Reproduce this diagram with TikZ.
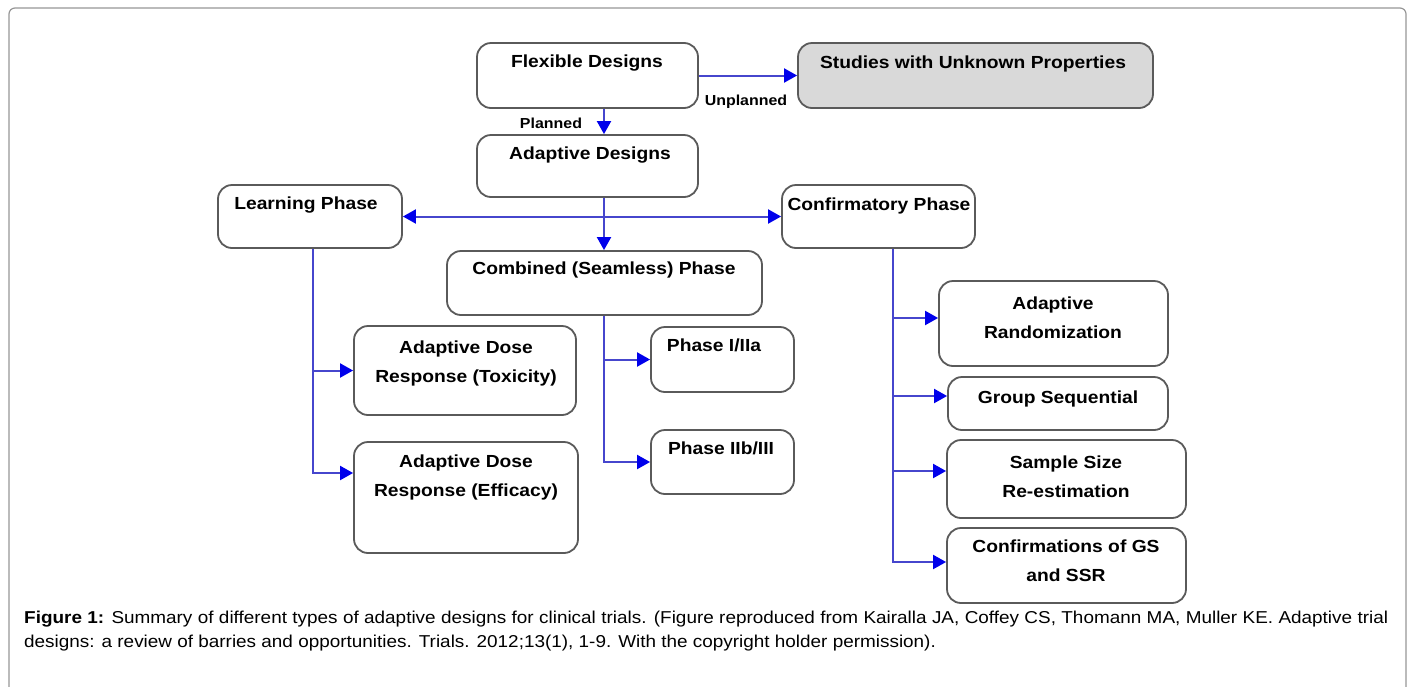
\documentclass[tikz,border=0pt]{standalone}
\usepackage{fontspec}
\setmainfont{Liberation Sans}[FakeStretch=1.1]
\usetikzlibrary{arrows.meta,fit}
\definecolor{lnblue}{RGB}{70,70,205}
\definecolor{tipblue}{RGB}{0,0,235}
\definecolor{bxgray}{RGB}{90,90,90}
\definecolor{studfill}{RGB}{217,217,217}
\definecolor{framegray}{RGB}{150,150,150}
\begin{document}
\begin{tikzpicture}[x=1pt,y=-1pt,
 bx/.style={draw=bxgray, line width=1.8pt, rounded corners=14pt, inner sep=0pt, fill=white},
 txt/.style={font=\fontsize{17.5}{29}\selectfont\bfseries, align=center, inner sep=0pt},
 lbl/.style={font=\fontsize{14.5}{17}\selectfont\bfseries, inner sep=0pt},
 ln/.style={draw=lnblue, line width=2pt},
 arr/.style={ln, -{Triangle[length=13pt,width=14pt,color=tipblue]}},
 darr/.style={ln, {Triangle[length=13pt,width=14pt,color=tipblue]}-{Triangle[length=13pt,width=14pt,color=tipblue]}},
]
\useasboundingbox (0,0) rectangle (1414,686);
\draw[framegray, line width=1.2pt, rounded corners=6pt] (9,8) -- (1406,8) -- (1406,730) -- (9,730) -- cycle;

% boxes
\node[bx, fit={(477,43) (698,108)}] (flex) {};
\node[bx, fill=studfill, fit={(798,43) (1153,108)}] (stud) {};
\node[bx, fit={(477,135) (698,197)}] (adapt) {};
\node[bx, fit={(218,185) (402,248)}] (learn) {};
\node[bx, fit={(782,185) (975,248)}] (conf) {};
\node[bx, fit={(447,251) (762,315)}] (comb) {};
\node[bx, fit={(651,327) (794,392)}] (p1) {};
\node[bx, fit={(651,430) (794,494)}] (p2) {};
\node[bx, fit={(354,326) (576,415)}] (tox) {};
\node[bx, fit={(354,442) (578,553)}] (eff) {};
\node[bx, fit={(939,281) (1168,366)}] (rand) {};
\node[bx, fit={(948,377) (1168,430)}] (gs) {};
\node[bx, fit={(947,440) (1186,518)}] (ss) {};
\node[bx, fit={(947,528) (1186,603)}] (cgs) {};

% texts
\node[txt] (flexT) at (587,63) {Flexible Designs};
\node[txt] (studT) at (973,64) {Studies with Unknown Properties};
\node[txt] (adaptT) at (590,155) {Adaptive Designs};
\node[txt] (learnT) at (306,205) {Learning Phase};
\node[txt] (confT) at (879,206) {Confirmatory Phase};
\node[txt] (combT) at (604,270) {Combined (Seamless) Phase};
\node[txt] (p1T) at (714,345) {Phase I/IIa};
\node[txt] (p2T) at (721,448) {Phase IIb/III};
\node[txt] (toxT) at (466,363.5) {Adaptive Dose\\Response (Toxicity)};
\node[txt] (effT) at (466,477.5) {Adaptive Dose\\Response (Efficacy)};
\node[txt] (randT) at (1053,318) {Adaptive\\Randomization};
\node[txt] (gsT) at (1058,399) {Group Sequential};
\node[txt] (ssT) at (1066,476.5) {Sample Size\\Re-estimation};
\node[txt] (cgsT) at (1066,561) {Confirmations of GS\\and SSR};

% labels
\node[lbl] (unpl) at (746,102) {Unplanned};
\node[lbl] (plan) at (551,123) {Planned};

% trunk coordinates
\coordinate (tA) at (604,0);
\coordinate (tL) at (313,0);
\coordinate (tC) at (893,0);
\coordinate (yE) at (0,473);
\coordinate (yR) at (0,318);
\coordinate (yG) at (0,396);
\coordinate (yS) at (0,471);
\coordinate (yC) at (0,562);

% connectors
\draw[arr] (flex.east) -- (stud.west);
\draw[arr] (flex.south -| tA) -- (adapt.north -| tA);
\draw[arr] (adapt.south -| tA) -- (comb.north -| tA);
\draw[darr] (learn.east) -- (conf.west);
\draw[arr] (learn.south -| tL) |- (tox.west);
\draw[arr] (learn.south -| tL) |- (eff.west |- yE);
\draw[arr] (comb.south -| tA) |- (p1.west);
\draw[arr] (comb.south -| tA) |- (p2.west);
\draw[arr] (conf.south -| tC) |- (rand.west |- yR);
\draw[arr] (conf.south -| tC) |- (gs.west |- yG);
\draw[arr] (conf.south -| tC) |- (ss.west |- yS);
\draw[arr] (conf.south -| tC) |- (cgs.west |- yC);

% caption
\node[anchor=north west, text width=1364pt, align=justify, inner sep=0pt,
      font=\fontsize{17.2}{23.5}\selectfont] (cap) at (24,611)
 {\textbf{Figure 1:} Summary of different types of adaptive designs for clinical trials. (Figure reproduced from Kairalla JA, Coffey CS, Thomann MA, Muller KE. Adaptive trial\linebreak designs: a review of barries and opportunities. Trials. 2012;13(1), 1-9. With the copyright holder permission).};
\end{tikzpicture}
\end{document}
